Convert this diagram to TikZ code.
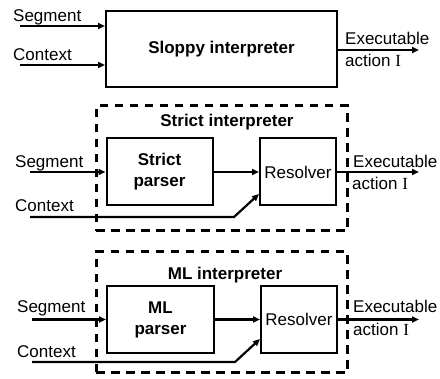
\documentclass[tikz,border=0pt]{standalone}
\usepackage{fontspec}
\setmainfont{Liberation Sans}
\newfontfamily\serifI{Liberation Serif}
\usetikzlibrary{arrows.meta}
\newcommand\fsz{\fontsize{17}{21}\selectfont}
\begin{document}
\begin{tikzpicture}[x=1pt,y=-1pt,
  box/.style={draw, line width=2pt, inner sep=0pt, align=center, font=\fsz},
  bbox/.style={box, font=\fsz\bfseries},
  arr/.style={line width=2.2pt, -{Triangle[length=7pt,width=6pt]}},
  dbox/.style={draw, line width=3pt, dash pattern=on 8.5pt off 6.5pt, inner sep=0pt},
  lbl/.style={anchor=base west, inner sep=0pt, font=\fsz},
  ttl/.style={anchor=base, inner sep=0pt, font=\fsz\bfseries}]
\useasboundingbox (0,0) rectangle (440,379);

% ---- Sloppy interpreter ----
\node[bbox, minimum width=231pt, minimum height=76pt] (sloppy) at (221.5,49.5) {Sloppy interpreter};
\node[lbl] (seg1) at (13,22) {Segment};
\node[lbl] (ctx1) at (13,60.5) {Context};
\coordinate (s1) at (20,26);
\coordinate (c1) at (20,65);
\draw[arr] (s1) -- (s1 -| sloppy.west);
\draw[arr] (c1) -- (c1 -| sloppy.west);
\coordinate (o1) at (419,50);
\draw[arr] (sloppy.east |- o1) -- (o1);
\node[lbl] (ex1) at (345,45) {Executable};
\node[lbl] (ac1) at (345,67) {action {\serifI I}};

% ---- Strict interpreter ----
\node[dbox, minimum width=251pt, minimum height=125pt] (strictbox) at (221.5,168.5) {};
\node[ttl] (strictttl) at (227,127) {Strict interpreter};
\node[bbox, minimum width=106pt, minimum height=67pt] (sparser) at (159.5,172) {Strict\\parser};
\node[box, minimum width=76pt, minimum height=67pt] (sres) at (298,172) {Resolver};
\node[lbl] (seg2) at (15,167.5) {Segment};
\node[lbl] (ctx2) at (15,211.5) {Context};
\coordinate (s2) at (30,172);
\coordinate (c2) at (30,217);
\coordinate (k2) at (234,217);
\draw[arr] (s2) -- (sparser.west);
\draw[arr, line width=2.8pt] (sparser.east) -- (sres.west);
\draw[arr] (c2) -- (k2) -- (sres.west |- 0,194);
\coordinate (o2) at (419,172);
\draw[arr] (sres.east) -- (o2);
\node[lbl] (ex2) at (353,167.5) {Executable};
\node[lbl] (ac2) at (352,189.5) {action {\serifI I}};

% ---- ML interpreter ----
\node[dbox, minimum width=251pt, minimum height=121pt] (mlbox) at (221.5,312.5) {};
\node[ttl] (mlttl) at (225,280) {ML interpreter};
\node[bbox, minimum width=107pt, minimum height=67pt] (mparser) at (160.5,319.5) {ML\\parser};
\node[box, minimum width=76pt, minimum height=67pt] (mres) at (299,319.5) {Resolver};
\node[lbl] (seg3) at (17,313) {Segment};
\node[lbl] (ctx3) at (17,357.5) {Context};
\coordinate (s3) at (32,319.5);
\coordinate (c3) at (32,362);
\coordinate (k3) at (235,362);
\draw[arr] (s3) -- (mparser.west);
\draw[arr] (mparser.east) -- (mres.west);
\draw[arr] (c3) -- (k3) -- (mres.west |- 0,339);
\coordinate (o3) at (419,319.5);
\draw[arr] (mres.east) -- (o3);
\node[lbl] (ex3) at (353,313) {Executable};
\node[lbl] (ac3) at (353,336) {action {\serifI I}};
\end{tikzpicture}
\end{document}
